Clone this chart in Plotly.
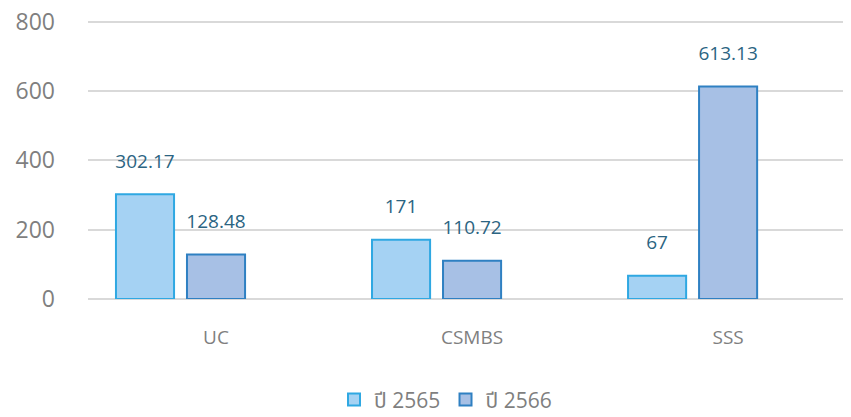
import plotly.graph_objects as go

categories = ["UC", "CSMBS", "SSS"]
series_names = ["ปี 2565", "ปี 2566"]
values_2565 = [302.17, 171, 67]
values_2566 = [128.48, 110.72, 613.13]
values_empty = [None, None, None]  # empty third slot present in the original chart
y_ticks = [0, 200, 400, 600, 800]

FONT = "Open Sans, Noto Sans Thai, Noto Sans, sans-serif"
LABEL_COLOR = "#2b6482"
TICK_COLOR = "#7f7f7f"

def labels(vals):
    return ["<span style='font-size:19px'>%g</span><br> " % v for v in vals]

fig = go.Figure()
fig.add_trace(go.Bar(
    x=categories, y=values_2565, name=series_names[0],
    marker=dict(color="#a5d2f3", line=dict(color="#2fa8e2", width=2)),
    text=labels(values_2565), textposition="outside", cliponaxis=False,
    constraintext="none",
    textfont=dict(color=LABEL_COLOR, size=15, family=FONT),
))
fig.add_trace(go.Bar(
    x=categories, y=values_2566, name=series_names[1],
    marker=dict(color="#a7c0e5", line=dict(color="#2f80c2", width=2)),
    text=labels(values_2566), textposition="outside", cliponaxis=False,
    constraintext="none",
    textfont=dict(color=LABEL_COLOR, size=15, family=FONT),
))
fig.add_trace(go.Bar(x=categories, y=values_empty, showlegend=False, hoverinfo="skip"))

fig.update_layout(
    width=843, height=409,
    margin=dict(l=80, r=0, t=12, b=118, autoexpand=False),
    paper_bgcolor="white", plot_bgcolor="white",
    barmode="group", bargap=0.168, bargroupgap=0.182,
    font=dict(family=FONT, color=TICK_COLOR),
    showlegend=True,
    legend=dict(orientation="h", xref="container", x=0.519, xanchor="center",
                yref="container", y=0.042, yanchor="middle",
                font=dict(size=21, color=TICK_COLOR, family=FONT),
                itemsizing="constant", itemwidth=30),
)
fig.update_xaxes(range=[-0.5, 2.48], showgrid=False, showline=False, ticks="",
                 automargin=False,
                 tickfont=dict(size=19, color=TICK_COLOR, family=FONT),
                 ticklabelstandoff=25)
fig.update_yaxes(range=[0, 805], tickvals=y_ticks, showgrid=True, gridcolor="#d9d9d9",
                 gridwidth=2, zeroline=True, zerolinecolor="#d9d9d9", zerolinewidth=2,
                 showline=False, ticks="", automargin=False, ticklabeloverflow="allow",
                 tickfont=dict(size=23, color=TICK_COLOR, family=FONT),
                 ticklabelstandoff=32)

fig.write_html("out.html")
